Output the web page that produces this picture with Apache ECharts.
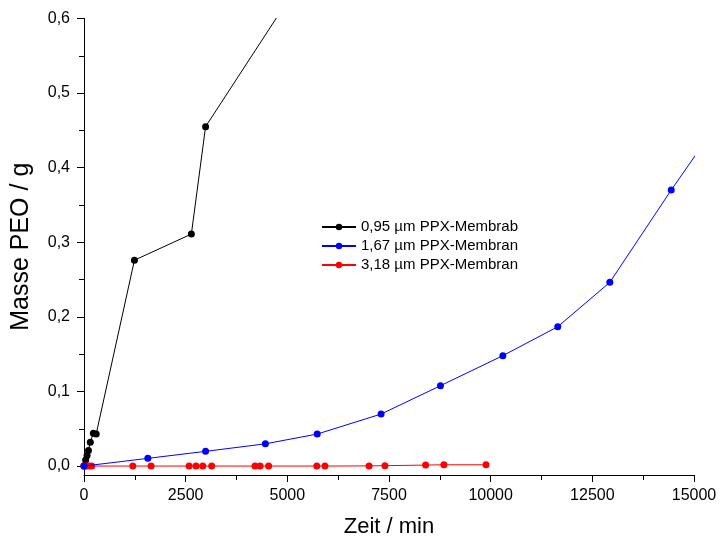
<!DOCTYPE html>
<html>
<head>
<meta charset="utf-8">
<script src="https://cdn.jsdelivr.net/npm/echarts@6/dist/echarts.min.js"></script>
<style>
  html, body { margin: 0; padding: 0; background: #fff; }
  #chart { width: 720px; height: 543px; }
</style>
</head>
<body>
<div id="chart"></div>
<script>
// Mass of PEO permeated over time for three membrane thicknesses
const seriesNames = ['0,95 µm PPX-Membrab', '1,67 µm PPX-Membran', '3,18 µm PPX-Membran'];

// [Zeit / min, Masse / g]
const thinMembrane = [
  [0, 0], [40, 0.008], [75, 0.014], [110, 0.021], [155, 0.032], [230, 0.044], [300, 0.043],
  [1240, 0.276], [2640, 0.311], [2990, 0.455], [5500, 0.665]
];
const midMembrane = [
  [0, 0], [1570, 0.0103], [2990, 0.0197], [4460, 0.0298], [5735, 0.0429], [7305, 0.0697],
  [8765, 0.1077], [10300, 0.148], [11650, 0.1868], [12930, 0.2463], [14440, 0.370], [15500, 0.453]
];
const thickMembrane = [
  [0, 0], [60, 0], [120, 0], [190, 0], [1200, 0], [1650, 0], [2585, 0], [2755, 0], [2920, 0],
  [3140, 0], [4205, 0], [4330, 0], [4540, 0], [5725, 0], [5925, 0], [7010, 0.0002],
  [7400, 0.0005], [8400, 0.0013], [8850, 0.0017], [9885, 0.0017]
];

const xTicks = { min: 0, max: 15000, step: 2500 };
const yMajorTicks = [0, 0.1, 0.2, 0.3, 0.4, 0.5, 0.6];
const yMinorTicks = [0.05, 0.15, 0.25, 0.35, 0.45, 0.55];
const yRange = { min: -0.012, max: 0.6 };

const FONT = 'Liberation Sans, Arial, sans-serif';
const chart = echarts.init(document.getElementById('chart'), null, { renderer: 'canvas' });

function makeSeries(name, data, color, z) {
  return {
    name: name,
    type: 'line',
    data: data,
    xAxisIndex: 0,
    yAxisIndex: 0,
    symbol: 'circle',
    symbolSize: 7,
    showAllSymbol: true,
    clip: true,
    z: z,
    lineStyle: { color: color, width: 1 },
    itemStyle: { color: color },
    emphasis: { disabled: true },
    animation: false
  };
}

chart.setOption({
  backgroundColor: '#ffffff',
  animation: false,
  textStyle: { fontFamily: FONT },
  grid: { left: 84, right: 26, top: 18.5, bottom: 68, containLabel: false },
  legend: {
    data: seriesNames,
    left: 316,
    top: 214.5,
    orient: 'vertical',
    itemWidth: 34,
    itemHeight: 8,
    itemGap: 4,
    textStyle: { fontFamily: FONT, fontSize: 15, color: '#000' }
  },
  xAxis: {
    type: 'value',
    min: xTicks.min,
    max: xTicks.max,
    interval: xTicks.step,
    name: 'Zeit / min',
    nameLocation: 'middle',
    nameGap: 41,
    nameTextStyle: { fontFamily: FONT, fontSize: 22, color: '#000' },
    axisLine: { onZero: false, lineStyle: { color: '#000', width: 1 } },
    axisTick: { inside: false, length: 7, lineStyle: { color: '#000' } },
    minorTick: { show: true, splitNumber: 2, length: 5, lineStyle: { color: '#000' } },
    axisLabel: { fontFamily: FONT, fontSize: 16, color: '#000', margin: 13, formatter: v => String(v) },
    splitLine: { show: false }
  },
  yAxis: [
    {
      type: 'value',
      min: yRange.min,
      max: yRange.max,
      name: 'Masse PEO / g',
      nameLocation: 'middle',
      nameGap: 50,
      nameTextStyle: { fontFamily: FONT, fontSize: 25, color: '#000' },
      axisLine: { show: true, onZero: false, lineStyle: { color: '#000', width: 1 } },
      axisTick: { show: true, inside: false, length: 7, customValues: yMajorTicks, lineStyle: { color: '#000' } },
      axisLabel: {
        fontFamily: FONT, fontSize: 16, color: '#000', margin: 14,
        customValues: yMajorTicks,
        formatter: v => v.toFixed(1).replace('.', ',')
      },
      splitLine: { show: false }
    },
    {
      type: 'value',
      min: yRange.min,
      max: yRange.max,
      position: 'left',
      axisLine: { show: false, onZero: false },
      axisTick: { show: true, inside: false, length: 5, customValues: yMinorTicks, lineStyle: { color: '#000' } },
      axisLabel: { show: false },
      splitLine: { show: false }
    }
  ],
  series: [
    makeSeries(seriesNames[0], thinMembrane, '#000000', 2),
    makeSeries(seriesNames[1], midMembrane, '#0000ff', 4),
    makeSeries(seriesNames[2], thickMembrane, '#ff0000', 3)
  ]
});
</script>
</body>
</html>
